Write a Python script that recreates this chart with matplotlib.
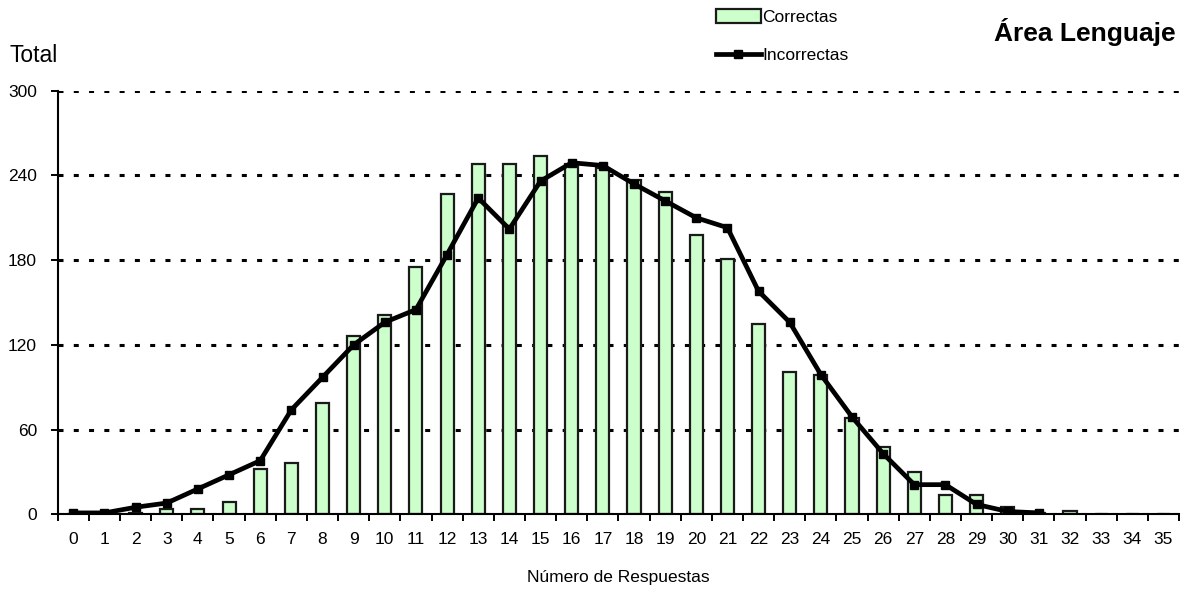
import numpy as np
import matplotlib
matplotlib.use("Agg")
import matplotlib.pyplot as plt
from matplotlib.ticker import FixedLocator, MultipleLocator

plt.rcParams['font.family'] = ['Liberation Sans', 'DejaVu Sans']
plt.rcParams['lines.scale_dashes'] = False

# datos
respuestas = list(range(36))
correctas = [0, 0, 1, 4, 4, 9, 32, 36, 79, 126, 141, 175, 227, 248, 248, 254, 248, 245,
             237, 228, 198, 181, 135, 101, 99, 68, 48, 30, 14, 14, 5, 1, 2, 0, 0, 0]
incorrectas = [1, 1, 5, 8, 18, 28, 38, 74, 97, 120, 136, 145, 184, 224, 202, 236, 249, 247,
               234, 222, 210, 203, 158, 136, 99, 69, 43, 21, 21, 7, 2, 1,
               np.nan, np.nan, np.nan, np.nan]
y_ticks = [0, 60, 120, 180, 240, 300]

fig = plt.figure(figsize=(11.96, 5.89), dpi=100)
ax = fig.add_axes([0.0483, 0.1268, 0.9375, 0.7192])

bars = ax.bar(respuestas, correctas, width=0.42, color='#CCFFCC',
              edgecolor='#1a1a1a', linewidth=1.6, label='Correctas', zorder=2)
line, = ax.plot(respuestas, incorrectas, color='black', linewidth=3.4,
                marker='s', markersize=6, label='Incorrectas', zorder=3)

ax.set_xlim(-0.5, 35.5)
ax.set_ylim(0, 300)
ax.yaxis.set_major_locator(FixedLocator(y_ticks))
ax.set_xticks(respuestas)
ax.set_xticklabels([str(r) for r in respuestas])
ax.xaxis.set_minor_locator(MultipleLocator(1, offset=0.5))
ax.tick_params(axis='x', which='major', length=0, pad=13, labelsize=12.5)
ax.tick_params(axis='x', which='minor', length=5, width=1.4, direction='out')
ax.tick_params(axis='y', length=5, width=1.4, direction='out', labelsize=12.5, pad=10)

ax.grid(axis='y', color='black', linestyle=(0, (3.6, 7.4)), linewidth=2.2, zorder=1)
ax.set_axisbelow(True)
for s in ['top', 'right']:
    ax.spines[s].set_visible(False)
for s in ['left', 'bottom']:
    ax.spines[s].set_linewidth(1.5)

ax.set_xlabel('Número de Respuestas', fontsize=12.5, labelpad=16)
fig.text(0.008, 0.905, 'Total', fontsize=16.5, ha='left', va='center')
fig.text(0.983, 0.945, 'Área Lenguaje', fontsize=19, fontweight='bold',
         ha='right', va='center')

fig.legend(handles=[bars, line], loc='upper left', bbox_to_anchor=(0.594, 0.993),
           frameon=False, fontsize=12.5, handlelength=2.6, handleheight=0.8,
           handletextpad=0.1, labelspacing=1.3, borderpad=0.3, borderaxespad=0)

fig.savefig('out.png', dpi=100)
